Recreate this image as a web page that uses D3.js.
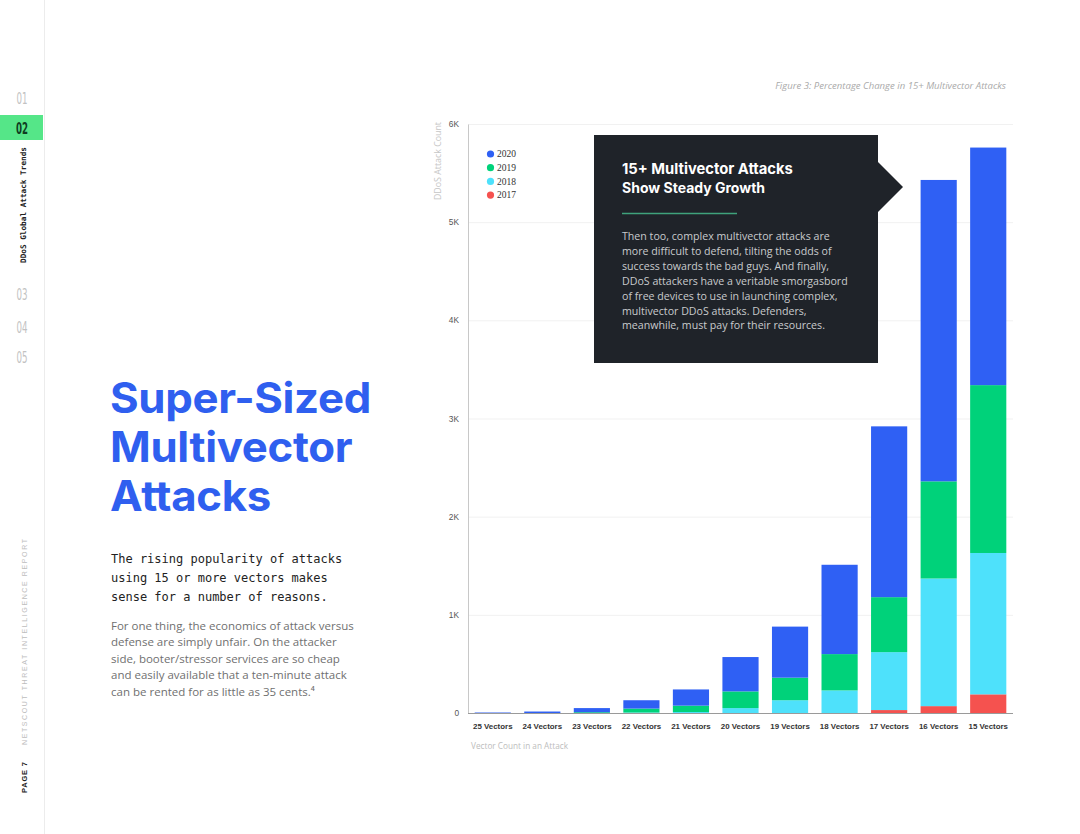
<!DOCTYPE html>
<html>
<head>
<meta charset="utf-8">
<script src="https://cdn.jsdelivr.net/npm/d3@7"></script>
<style>
  html, body { margin: 0; padding: 0; background: #fff; }
  svg { display: block; }
</style>
</head>
<body>
<svg id="chart" width="1080" height="834"></svg>
<script>
// ---------- DATA ----------
const categories = ["25 Vectors","24 Vectors","23 Vectors","22 Vectors","21 Vectors","20 Vectors","19 Vectors","18 Vectors","17 Vectors","16 Vectors","15 Vectors"];
const years = ["2017","2018","2019","2020"];
const values2017 = [0, 0, 0, 0, 0, 0, 0, 0, 30, 70, 190];
const values2018 = [0, 0, 0, 5, 10, 50, 130, 230, 590, 1300, 1440];
const values2019 = [0, 0, 8, 40, 65, 170, 230, 370, 560, 990, 1710];
const values2020 = [5, 15, 42, 85, 165, 350, 520, 910, 1740, 3070, 2420];
const yTicks = [0, 1000, 2000, 3000, 4000, 5000, 6000];
const yTickLabels = ["0", "1K", "2K", "3K", "4K", "5K", "6K"];
const legendOrder = ["2020", "2019", "2018", "2017"];
const navItems = ["01", "02", "03", "04", "05"];

const colors = { "2020": "#2F60F4", "2019": "#00D27A", "2018": "#4EE1FB", "2017": "#F5524F" };

// ---------- SETUP ----------
const svg = d3.select("#chart");
svg.append("rect").attr("width", 1080).attr("height", 834).attr("fill", "#fff");

function fit(sel, w) {
  const node = sel.node();
  const fs = parseFloat(sel.attr("font-size"));
  const len = node.getComputedTextLength();
  if (len > 0) sel.attr("font-size", (fs * w / len).toFixed(2));
  return sel;
}

// ---------- SIDEBAR ----------
svg.append("line").attr("x1", 44.5).attr("x2", 44.5).attr("y1", 0).attr("y2", 834)
  .attr("stroke", "#ececec").attr("stroke-width", 1);

const navY = { "01": 98, "02": 128, "03": 294, "04": 327, "05": 357 };
svg.append("rect").attr("x", 0).attr("y", 115).attr("width", 43).attr("height", 25).attr("fill", "#55E688");
navItems.forEach(n => {
  svg.append("text")
    .attr("transform", `translate(22,${navY[n] + 5.5}) scale(0.62,1.08)`)
    .attr("text-anchor", "middle")
    .attr("font-family", "DejaVu Sans")
    .attr("font-size", 14)
    .attr("font-weight", n === "02" ? 700 : 400)
    .attr("fill", n === "02" ? "#0f3d22" : "#c2c2c2")
    .text(n);
});

fit(svg.append("text")
  .attr("transform", "translate(26,263) rotate(-90)")
  .attr("font-family", "DejaVu Sans Mono")
  .attr("font-weight", 700)
  .attr("font-size", 7.5)
  .attr("fill", "#222")
  .text("DDoS Global Attack Trends"), 116);

svg.append("text")
  .attr("transform", "translate(27,745) rotate(-90)")
  .attr("font-family", "Liberation Sans")
  .attr("font-size", 7)
  .attr("fill", "#bdbdbd")
  .attr("textLength", 206)
  .attr("lengthAdjust", "spacing")
  .text("NETSCOUT THREAT INTELLIGENCE REPORT");

svg.append("text")
  .attr("transform", "translate(27,793) rotate(-90)")
  .attr("font-family", "Liberation Sans")
  .attr("font-weight", 700)
  .attr("font-size", 7.5)
  .attr("fill", "#222")
  .attr("textLength", 31)
  .attr("lengthAdjust", "spacing")
  .text("PAGE 7");

// ---------- LEFT TEXT ----------
const titleLines = [["Super-Sized", 413], ["Multivector", 462], ["Attacks", 511]];
const titleTexts = titleLines.map(([t, yy]) => svg.append("text")
  .attr("font-family", "Inter").attr("font-weight", 700).attr("font-size", 39.5)
  .attr("fill", "#2F5FEF").attr("letter-spacing", -0.3).text(t).attr("data-y", yy));
{
  const len = titleTexts[0].node().getComputedTextLength();
  const sx = 261 / len;
  titleTexts.forEach(s => s.attr("transform", `translate(110,${s.attr("data-y")}) scale(${sx.toFixed(4)},1.06)`));
}

const monoLines = ["The rising popularity of attacks", "using 15 or more vectors makes", "sense for a number of reasons."];
monoLines.forEach((t, i) => {
  svg.append("text").attr("x", 111).attr("y", 563 + i * 19.2)
    .attr("font-family", "DejaVu Sans Mono").attr("font-size", 12)
    .attr("fill", "#222").text(t);
});

const bodyLines = ["For one thing, the economics of attack versus",
  "defense are simply unfair. On the attacker",
  "side, booter/stressor services are so cheap",
  "and easily available that a ten-minute attack",
  "can be rented for as little as 35 cents.\u2074"];
const bodyTexts = bodyLines.map((t, i) => svg.append("text").attr("x", 111).attr("y", 630 + i * 16.4)
  .attr("font-family", "Open Sans").attr("font-size", 11.5)
  .attr("fill", "#707070").text(t));
{
  const len = bodyTexts[0].node().getComputedTextLength();
  const fs = 11.5 * 243 / len;
  bodyTexts.forEach(s => s.attr("font-size", fs.toFixed(2)));
}

// ---------- CHART ----------
const x = d3.scaleBand().domain(categories).range([468, 1013]).paddingInner(0.27).paddingOuter(0.135);
const y = d3.scaleLinear().domain([0, 6000]).range([713, 124]);

// gridlines
svg.append("g").selectAll("line").data(yTicks.slice(1)).join("line")
  .attr("x1", 468).attr("x2", 1013)
  .attr("y1", d => y(d) + 0.5).attr("y2", d => y(d) + 0.5)
  .attr("stroke", "#f1f1f1");

// stacked bars
const rows = categories.map((c, i) => ({ cat: c, "2017": values2017[i], "2018": values2018[i], "2019": values2019[i], "2020": values2020[i] }));
const stack = d3.stack().keys(years)(rows);
svg.append("g").selectAll("g").data(stack).join("g")
  .attr("fill", d => colors[d.key])
  .selectAll("rect").data(d => d).join("rect")
  .attr("x", d => x(d.data.cat))
  .attr("width", x.bandwidth())
  .attr("y", d => y(d[1]))
  .attr("height", d => Math.max(0, y(d[0]) - y(d[1])));

// y axis
const yAxis = d3.axisLeft(y).tickValues(yTicks).tickFormat((d, i) => yTickLabels[i]).tickSize(0).tickPadding(9);
const gy = svg.append("g").attr("transform", "translate(468,0)").call(yAxis);
gy.select(".domain").attr("stroke", "#c8c8c8");
gy.selectAll("text").attr("font-family", "Liberation Sans").attr("font-size", 8.3).attr("fill", "#555");

// x axis
const xAxis = d3.axisBottom(x).tickSize(0).tickPadding(10);
const gx = svg.append("g").attr("transform", "translate(0,713)").call(xAxis);
gx.select(".domain").attr("stroke", "#9a9a9a").attr("d", "M468,0.5H1013");
gx.selectAll("text").attr("font-family", "Liberation Sans").attr("font-weight", 700)
  .attr("font-size", 7.9).attr("fill", "#333");

fit(svg.append("text").attr("x", 471).attr("y", 749)
  .attr("font-family", "Open Sans").attr("font-size", 7.5).attr("fill", "#bdbdbd")
  .text("Vector Count in an Attack"), 97);

fit(svg.append("text").attr("transform", "translate(441,122) rotate(-90)")
  .attr("text-anchor", "end")
  .attr("font-family", "Open Sans").attr("font-size", 7.2).attr("fill", "#c6c6c6")
  .text("DDoS Attack Count"), 78);

// caption
fit(svg.append("text").attr("x", 1006).attr("y", 89).attr("text-anchor", "end")
  .attr("font-family", "Open Sans").attr("font-style", "italic").attr("font-size", 8.3)
  .attr("fill", "#aaa").text("Figure 3: Percentage Change in 15+ Multivector Attacks"), 231);

// legend
const legend = svg.append("g");
legendOrder.forEach((k, i) => {
  const cy = 154 + i * 13.7;
  legend.append("circle").attr("cx", 490.5).attr("cy", cy).attr("r", 3.6).attr("fill", colors[k]);
  legend.append("text").attr("x", 497).attr("y", cy + 3.3)
    .attr("font-family", "Liberation Serif").attr("font-size", 9.5).attr("fill", "#333").text(k);
});

// annotation box
svg.append("path")
  .attr("d", "M594,135H878V162L903,187L878,212V363H594Z")
  .attr("fill", "#1F2329");
fit(svg.append("text").attr("x", 622).attr("y", 174)
  .attr("font-family", "Inter").attr("font-weight", 700).attr("font-size", 14)
  .attr("fill", "#fff").text("15+ Multivector Attacks"), 171);
svg.append("text").attr("x", 622).attr("y", 193.3)
  .attr("font-family", "Inter").attr("font-weight", 700).attr("font-size", 14)
  .attr("fill", "#fff").text("Show Steady Growth");
svg.append("line").attr("x1", 622).attr("x2", 737).attr("y1", 213.5).attr("y2", 213.5)
  .attr("stroke", "#3FA27C").attr("stroke-width", 1.3);

const boxLines = ["Then too, complex multivector attacks are",
  "more difficult to defend, tilting the odds of",
  "success towards the bad guys. And finally,",
  "DDoS attackers have a veritable smorgasbord",
  "of free devices to use in launching complex,",
  "multivector DDoS attacks. Defenders,",
  "meanwhile, must pay for their resources."];
const boxTexts = boxLines.map((t, i) => svg.append("text").attr("x", 622).attr("y", 240 + i * 14.9)
  .attr("font-family", "Open Sans").attr("font-size", 10.5).attr("fill", "#c9cbcd").text(t));
{
  const len = boxTexts[3].node().getComputedTextLength();
  const fs = 10.5 * 226 / len;
  boxTexts.forEach(s => s.attr("font-size", fs.toFixed(2)));
}
</script>
</body>
</html>
